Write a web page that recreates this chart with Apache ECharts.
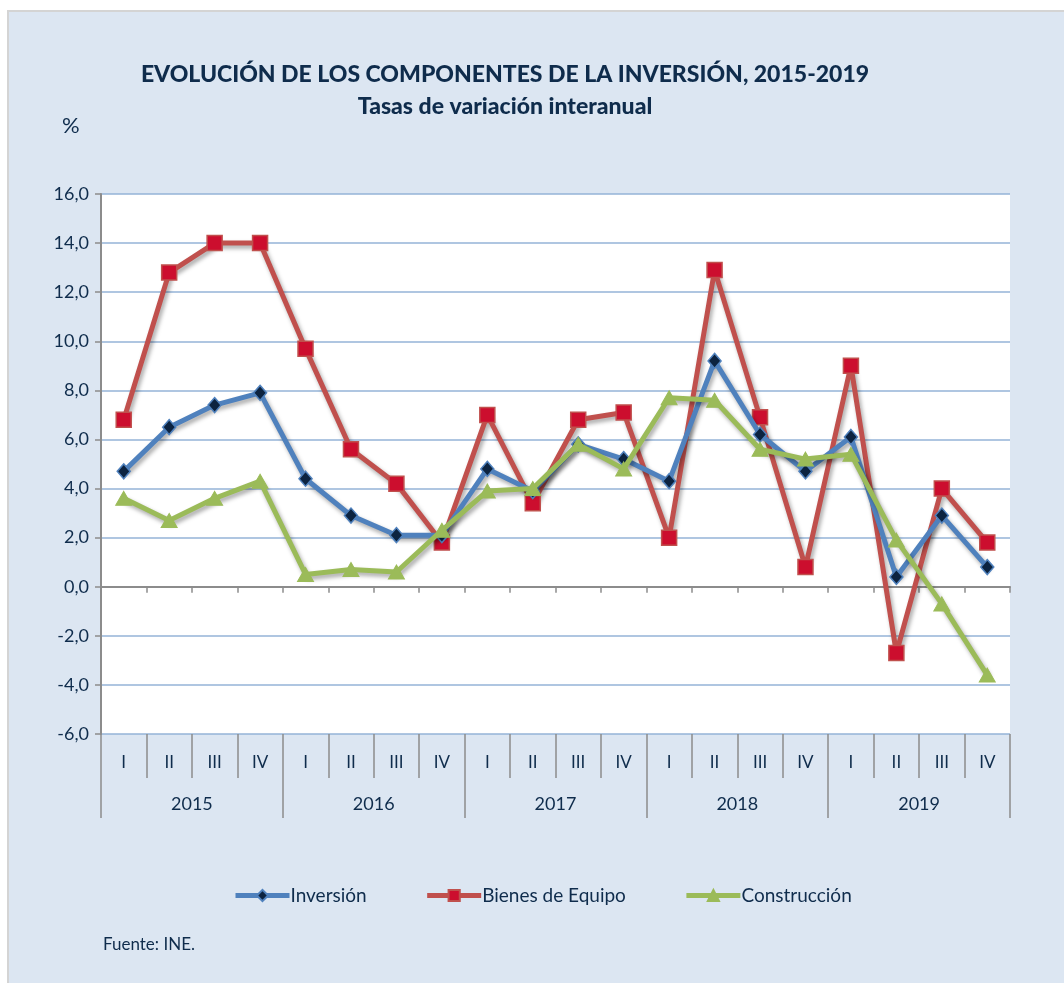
<!DOCTYPE html>
<html>
<head>
<meta charset="utf-8">
<script src="https://cdn.jsdelivr.net/npm/echarts@6/dist/echarts.min.js"></script>
<style>
  html, body { margin: 0; padding: 0; background: #fff; }
  #chart { width: 1064px; height: 983px; }
</style>
</head>
<body>
<div id="chart"></div>
<script>
// datos
const quarters = ['I', 'II', 'III', 'IV', 'I', 'II', 'III', 'IV', 'I', 'II', 'III', 'IV', 'I', 'II', 'III', 'IV', 'I', 'II', 'III', 'IV']
const years = ['2015', '2016', '2017', '2018', '2019']
const inversion = [4.7, 6.5, 7.4, 7.9, 4.4, 2.9, 2.1, 2.1, 4.8, 3.9, 5.8, 5.2, 4.3, 9.2, 6.2, 4.7, 6.1, 0.4, 2.9, 0.8]
const bienesEquipo = [6.8, 12.8, 14.0, 14.0, 9.7, 5.6, 4.2, 1.8, 7.0, 3.4, 6.8, 7.1, 2.0, 12.9, 6.9, 0.8, 9.0, -2.7, 4.0, 1.8]
const construccion = [3.6, 2.7, 3.6, 4.3, 0.5, 0.7, 0.6, 2.3, 3.9, 4.0, 5.8, 4.8, 7.7, 7.6, 5.6, 5.2, 5.4, 1.9, -0.7, -3.6]

const navy = '#0f2c4c'
const font = 'Lato, "Open Sans", sans-serif'
const shadow = { shadowColor: 'rgba(0,0,0,0.35)', shadowBlur: 4, shadowOffsetX: 2, shadowOffsetY: 3 }

const chart = echarts.init(document.getElementById('chart'))
chart.setOption({
  animation: false,
  textStyle: { fontFamily: font },
  graphic: [
    { type: 'rect', z: -10, shape: { x: 8, y: 11, width: 1060, height: 980 },
      style: { fill: '#dce6f2', stroke: '#d4d4d4', lineWidth: 2 } },
    { type: 'text', left: 62, top: 115, style: { text: '%', fontSize: 22, fill: navy, fontFamily: font } },
    { type: 'text', left: 103, top: 936, style: { text: 'Fuente: INE.', fontSize: 17, fill: navy, fontFamily: font } }
  ],
  title: {
    text: 'EVOLUCIÓN DE LOS COMPONENTES DE LA INVERSIÓN, 2015-2019\nTasas de variación interanual',
    left: 500, top: 54, textAlign: 'center',
    textStyle: { fontSize: 23, fontWeight: 900, color: navy, lineHeight: 32, fontFamily: font }
  },
  legend: {
    left: 228, top: 881, itemWidth: 54, itemHeight: 14, itemGap: 58,
    lineStyle: { width: 5 },
    textStyle: { fontSize: 19, color: navy, fontFamily: font, padding: [0, 0, 0, -4] },
    data: ['Inversión', 'Bienes de Equipo', 'Construcción']
  },
  grid: {
    left: 101, right: 54, top: 194, bottom: 249,
    show: true, backgroundColor: '#fff', borderWidth: 0
  },
  xAxis: [
    {
      type: 'category', data: quarters, position: 'bottom',
      axisLine: { show: false, onZero: false },
      axisTick: { show: true, interval: 0, length: 44, lineStyle: { color: '#8c8c8c', width: 1.5 } },
      axisLabel: { interval: 0, margin: 20, fontSize: 17, color: navy, fontFamily: font }
    },
    {
      type: 'category', data: years, position: 'bottom',
      axisLine: { show: false, onZero: false },
      axisTick: { show: true, interval: 0, length: 84, lineStyle: { color: '#8c8c8c', width: 1.5 } },
      axisLabel: { interval: 0, margin: 61, fontSize: 18, color: navy, fontFamily: font }
    },
    {
      type: 'category', data: quarters, position: 'bottom',
      axisLine: { show: true, onZero: true, lineStyle: { color: '#8c8c8c', width: 2 } },
      axisTick: { show: true, interval: 0, length: 6, lineStyle: { color: '#8c8c8c', width: 1.5 } },
      axisLabel: { show: false }
    }
  ],
  yAxis: {
    type: 'value', min: -6, max: 16, interval: 2,
    axisLine: { show: true, lineStyle: { color: '#8c8c8c', width: 2 } },
    axisTick: { show: true, length: 6, lineStyle: { color: '#8c8c8c', width: 1.5 } },
    axisLabel: { margin: 12, fontSize: 18, color: navy, fontFamily: font,
      formatter: v => v.toFixed(1).replace('.', ',') },
    splitLine: { show: true, lineStyle: { color: '#95b3d7', width: 1.5 } }
  },
  series: [
    {
      name: 'Inversión', type: 'line', data: inversion, xAxisIndex: 0,
      symbol: 'diamond', symbolSize: [13, 15],
      lineStyle: Object.assign({ color: '#4f81bd', width: 5 }, shadow),
      itemStyle: { color: '#0c2340', borderColor: '#4f81bd', borderWidth: 1.5 },
      z: 3
    },
    {
      name: 'Bienes de Equipo', type: 'line', data: bienesEquipo, xAxisIndex: 0,
      symbol: 'rect', symbolSize: 15,
      lineStyle: Object.assign({ color: '#c0504d', width: 5 }, shadow),
      itemStyle: { color: '#cc0e2e', borderColor: '#c0504d', borderWidth: 1.5 },
      z: 2
    },
    {
      name: 'Construcción', type: 'line', data: construccion, xAxisIndex: 0,
      symbol: 'triangle', symbolSize: [16, 14],
      lineStyle: Object.assign({ color: '#9bbb59', width: 5 }, shadow),
      itemStyle: { color: '#9bbb59', borderColor: '#9bbb59', borderWidth: 1 },
      z: 4
    }
  ]
})
</script>
</body>
</html>
